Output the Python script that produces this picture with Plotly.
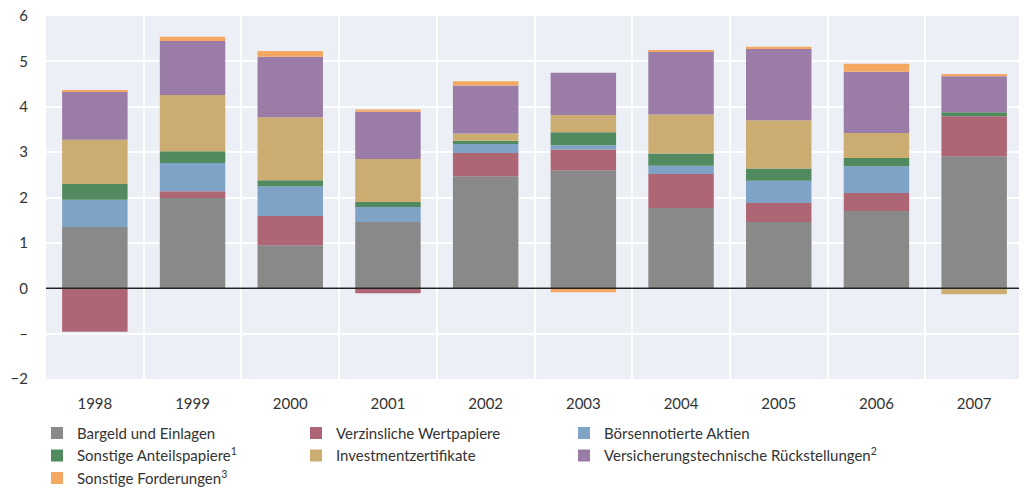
import plotly.graph_objects as go

# Data
years = ["1998", "1999", "2000", "2001", "2002", "2003", "2004", "2005", "2006", "2007"]

bargeld = [1.35, 1.99, 0.95, 1.46, 2.47, 2.60, 1.77, 1.46, 1.70, 2.91]
verzinsliche = [-0.96, 0.15, 0.64, -0.11, 0.51, 0.46, 0.75, 0.42, 0.40, 0.88]
aktien = [0.60, 0.62, 0.66, 0.33, 0.20, 0.09, 0.18, 0.49, 0.59, 0.0]
sonst_anteile = [0.35, 0.26, 0.13, 0.11, 0.07, 0.29, 0.27, 0.27, 0.18, 0.09]
investment = [0.97, 1.24, 1.39, 0.95, 0.16, 0.38, 0.86, 1.06, 0.55, -0.13]
versicherung = [1.06, 1.19, 1.33, 1.04, 1.06, 0.93, 1.39, 1.57, 1.35, 0.79]
forderungen = [0.04, 0.09, 0.13, 0.05, 0.09, -0.09, 0.02, 0.05, 0.18, 0.05]

# name, values, colour, legend column
series = [
    ("Bargeld und Einlagen", bargeld, "#89898a", "legend"),
    ("Verzinsliche Wertpapiere", verzinsliche, "#ae6574", "legend2"),
    ("Börsennotierte Aktien", aktien, "#7fa3c6", "legend3"),
    ("Sonstige Anteilspapiere<sup>1</sup>", sonst_anteile, "#508a5e", "legend"),
    ("Investmentzertifikate", investment, "#cbad72", "legend2"),
    ("Versicherungstechnische Rückstellungen<sup>2</sup>", versicherung, "#9a7ca7", "legend3"),
    ("Sonstige Forderungen<sup>3</sup>", forderungen, "#f4a862", "legend"),
]

y_ticks = [-2, -1, 0, 1, 2, 3, 4, 5, 6]
y_labels = ["−2", "–", "0", "1", "2", "3", "4", "5", "6"]

fig = go.Figure()
for name, vals, color, leg in series:
    fig.add_trace(go.Bar(
        x=years, y=vals, name=name, legend=leg,
        marker=dict(color=color, line=dict(width=0)),
    ))

# zero line drawn above the bars
fig.add_shape(type="line", xref="paper", x0=0, x1=1, y0=0, y1=0,
              line=dict(color="#222222", width=1.5), layer="above")

# page body adds an 8px offset, so the figure is a little smaller than the window
W, H = 1019, 481

legend_style = dict(
    orientation="v", xref="container", yref="container", y=0.150,
    yanchor="top", xanchor="left", traceorder="normal",
    font=dict(size=15, color="#333333"), itemwidth=30, tracegroupgap=0,
    bgcolor="rgba(0,0,0,0)",
)

fig.update_layout(
    width=W, height=H,
    barmode="relative",
    bargap=0.33,
    plot_bgcolor="#eceff6",
    paper_bgcolor="white",
    font=dict(family="Lato, sans-serif", size=15, color="#333333"),
    margin=dict(l=38, r=4, t=8, b=110, autoexpand=False),
    xaxis=dict(
        tickson="boundaries", showgrid=True, gridcolor="white", gridwidth=2,
        ticks="", ticklabelstandoff=14, tickfont=dict(size=15),
    ),
    yaxis=dict(
        range=[-2, 6], tickvals=y_ticks, ticktext=y_labels,
        showgrid=True, gridcolor="white", gridwidth=2,
        zeroline=False, ticks="", ticklabelstandoff=17, tickfont=dict(size=15),
        ticklabeloverflow="allow",
    ),
    legend=dict(x=29 / W, **legend_style),
    legend2=dict(x=288 / W, **legend_style),
    legend3=dict(x=556 / W, **legend_style),
    showlegend=True,
)

fig.write_html("out.html")
